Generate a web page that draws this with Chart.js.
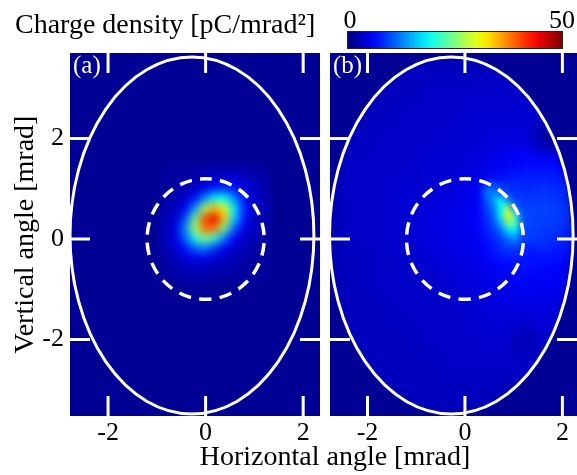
<!DOCTYPE html>
<html>
<head>
<meta charset="utf-8">
<title>Charge density</title>
<script src="https://cdn.jsdelivr.net/npm/chart.js@4.4.1/dist/chart.umd.min.js"></script>
<style>
  html, body { margin: 0; padding: 0; background: #fff; }
  body { position: relative; width: 577px; height: 475px; overflow: hidden; font-family: "Liberation Serif", "DejaVu Serif", serif; }
  .panel { position: absolute; top: 0; height: 475px; }
  #boxA { left: 0; width: 325px; }
  #boxB { left: 325px; width: 252px; }
  .lbl { position: absolute; white-space: nowrap; color: #000; }
  #cbTitle { left: 15px; top: 10px; font-size: 28px; line-height: 28px; }
  #cbMin { left: 350px; top: 7px; font-size: 26px; line-height: 26px; transform: translateX(-50%); }
  #cbMax { right: 2px; top: 7px; font-size: 26px; line-height: 26px; }
  #colorbar { position: absolute; left: 347px; top: 31px; width: 216px; height: 18px; box-sizing: border-box; border: 1px solid #222; }
  .tag { color: #fff; font-size: 25px; line-height: 25px; top: 52px; }
  #tagA { left: 73px; }
  #tagB { left: 333px; }
  #xTitle { left: 335px; top: 442px; font-size: 28px; line-height: 28px; transform: translateX(-50%); }
</style>
</head>
<body>
<div class="panel" id="boxA"><canvas id="chartA"></canvas></div>
<div class="panel" id="boxB"><canvas id="chartB"></canvas></div>
<div class="lbl" id="cbTitle">Charge density [pC/mrad²]</div>
<div id="colorbar"></div>
<div class="lbl" id="cbMin"></div>
<div class="lbl" id="cbMax"></div>
<div class="lbl tag" id="tagA">(a)</div>
<div class="lbl tag" id="tagB">(b)</div>
<div class="lbl" id="xTitle">Horizontal angle [mrad]</div>
<script>
// axis ranges and ticks, mrad
const xRangeA = [-2.78, 2.345];
const xRangeB = [-2.77, 2.30];
const yRange = [-3.52, 3.70];
const xTicks = [-2, 0, 2];
const yTicks = [-2, 0, 2];
const cbRange = [0, 50];
const bgValue = 1;

// aperture ellipse and dashed circle, mrad
const apertureCenter = [-0.28, 0.07];
const apertureRadii = [2.5, 3.55];
const circleRadius = 1.2;

// (a) charge density, 0.2 mrad cells
const aCell = 0.2;
const aCols = [-0.8, -0.6, -0.4, -0.2, 0, 0.2, 0.4, 0.6, 0.8, 1.0, 1.2];
const aRows = [1.4, 1.2, 1.0, 0.8, 0.6, 0.4, 0.2, 0, -0.2, -0.4, -0.6, -0.8];
const aValues = [
  [1.5, 1.5, 1.5, 1.5, 2, 2, 2, 2, 2, 1.5, 1.5],
  [1.5, 1.5, 2, 2.5, 3, 3.5, 4, 4, 3.5, 2.5, 2],
  [1.5, 2, 2.5, 3.5, 5, 7.5, 8.5, 7, 5, 3, 2.5],
  [2, 2.5, 3.5, 7, 13, 19, 19, 13, 7, 4, 2.5],
  [2.5, 3, 6, 14, 27, 35, 30, 18, 8, 4, 2.5],
  [2.5, 4, 10, 24, 40, 45, 34, 17, 7, 3.5, 2.5],
  [3, 5, 13, 27, 39, 38, 24, 11, 5, 3, 2],
  [3, 5, 11, 20, 25, 21, 12, 6, 3.5, 2.5, 2],
  [2.5, 4, 7, 11, 12, 9, 5.5, 3.5, 2.5, 2, 1.5],
  [2, 3, 4, 5, 5, 4, 3, 2.5, 2, 1.5, 1.5],
  [1.5, 2.5, 3, 3, 3, 2.5, 2.5, 2, 1.5, 1.5, 1.5],
  [1.5, 1.5, 2, 2, 2, 1.5, 1.5, 1.5, 1.5, 1.5, 1.5]
];

// (b) charge density, 0.5 mrad cells over the aperture
const bCell = 0.5;
const bCols = [-2.75, -2.25, -1.75, -1.25, -0.75, -0.25, 0.25, 0.75, 1.25, 1.75, 2.25];
const bRows = [3.5, 3.0, 2.5, 2.0, 1.5, 1.0, 0.5, 0, -0.5, -1.0, -1.5, -2.0, -2.5, -3.0, -3.5];
const bValues = [
  [3, 3, 3, 3, 3, 3, 3, 3, 3, 3, 3],
  [3, 3, 3, 3, 3.5, 3.5, 3.5, 3.5, 3.5, 3.5, 3.5],
  [3, 3, 3, 3.5, 3.5, 3.5, 4, 4, 4, 4, 4],
  [3, 3, 3.5, 3.5, 3.5, 4, 4, 4.5, 4.5, 0.5, 4.5],
  [3, 3.5, 3.5, 3.5, 4, 4, 4.5, 5.5, 6.5, 6.5, 6],
  [3, 3.5, 3.5, 4, 4, 4.5, 5.5, 7.5, 8.5, 8.5, 7.5],
  [3, 3.5, 3.5, 4, 4.5, 5, 6, 9, 10, 9.5, 8.5],
  [3, 3.5, 3.5, 4, 4.5, 5, 5.5, 8, 9.5, 8.5, 7.5],
  [3, 3, 3.5, 3.5, 4, 4.5, 5, 6.5, 7, 6.5, 6],
  [3, 3, 3.5, 3.5, 3.5, 4, 4.5, 5, 5.5, 5.5, 5],
  [3, 3, 3, 3.5, 3.5, 3.5, 4, 4.5, 4.5, 4.5, 4],
  [3, 3, 3, 3, 3.5, 3.5, 3.5, 4, 2.5, 4, 4],
  [3, 3, 3, 3, 3, 3.5, 3.5, 3.5, 3.5, 3.5, 3.5],
  [3, 3, 3, 3, 3, 3, 3, 3, 3, 3, 3],
  [3, 3, 3, 3, 3, 3, 3, 3, 3, 3, 3]
];

// (b) crescent near the dashed circle, 0.15 mrad cells
const bFineCell = 0.15;
const bFineCols = [0.45, 0.6, 0.75, 0.9, 1.05, 1.2, 1.35];
const bFineRows = [1.05, 0.9, 0.75, 0.6, 0.45, 0.3, 0.15, 0, -0.15, -0.3];
const bFineValues = [
  [9, 10, 9, 8.5, 8.5, 8, 8],
  [12, 13, 11, 9, 8.5, 8.5, 8.5],
  [10, 14, 19, 13, 9.5, 9, 9],
  [9, 12, 19, 27, 12, 9.5, 9.5],
  [8.5, 11, 18, 32, 21, 10, 9.5],
  [8, 10, 15, 25, 23, 10, 9.5],
  [7.5, 9, 11, 17, 18, 10, 9],
  [7, 8, 9.5, 12, 13, 9.5, 9],
  [6.5, 7.5, 8.5, 9.5, 10, 8.5, 8],
  [6, 7, 7.5, 8, 8, 7.5, 7]
];

function clamp01(v) { return Math.max(0, Math.min(1, v)); }

function jet(v) {
  const t = clamp01((v - cbRange[0]) / (cbRange[1] - cbRange[0]));
  const r = clamp01(1.5 - Math.abs(4 * t - 3));
  const g = clamp01(1.5 - Math.abs(4 * t - 2));
  const b = clamp01(1.5 - Math.abs(4 * t - 1));
  return `rgb(${Math.round(r * 255)},${Math.round(g * 255)},${Math.round(b * 255)})`;
}

function heatCells(cols, rows, values) {
  const pts = [];
  rows.forEach((y, i) => cols.forEach((x, j) => pts.push({ x: x, y: y, v: values[i][j] })));
  return pts;
}

// order: higher numbers are drawn first (underneath)
function heatDataset(cols, rows, values, cell, blur, order) {
  return {
    data: heatCells(cols, rows, values),
    blur: blur,
    order: order,
    pointStyle: 'rect',
    pointBorderWidth: 0,
    pointBackgroundColor: c => jet(c.raw ? c.raw.v : bgValue),
    pointRadius: c => {
      const s = c.chart.scales.x;
      const w = Math.abs(s.getPixelForValue(cell) - s.getPixelForValue(0));
      return (w + 1.5) / (2 * Math.SQRT1_2);
    }
  };
}

function apertureClip(chart) {
  const { ctx, scales: { x, y } } = chart;
  const cx = x.getPixelForValue(apertureCenter[0]);
  const cy = y.getPixelForValue(apertureCenter[1]);
  const rx = Math.abs(x.getPixelForValue(apertureCenter[0] + apertureRadii[0]) - cx);
  const ry = Math.abs(y.getPixelForValue(apertureCenter[1] + apertureRadii[1]) - cy);
  ctx.beginPath();
  ctx.ellipse(cx, cy, rx, ry, 0, 0, Math.PI * 2);
}

const heatPlugin = {
  id: 'heat',
  beforeDatasetsDraw(chart) {
    const { ctx, chartArea: a } = chart;
    ctx.save();
    ctx.fillStyle = jet(bgValue);
    ctx.fillRect(a.left, a.top, a.width, a.height);
    ctx.restore();
  },
  afterDatasetDraw(chart, args) {
    const blur = chart.data.datasets[args.index].blur;
    if (!blur) return;
    const { ctx, chartArea: a, canvas } = chart;
    const r = chart.currentDevicePixelRatio;
    const tmp = document.createElement('canvas');
    tmp.width = Math.round(a.width * r);
    tmp.height = Math.round(a.height * r);
    tmp.getContext('2d').drawImage(canvas, a.left * r, a.top * r, a.width * r, a.height * r, 0, 0, tmp.width, tmp.height);
    ctx.save();
    ctx.beginPath();
    ctx.rect(a.left, a.top, a.width, a.height);
    ctx.clip();
    ctx.fillStyle = jet(bgValue);
    ctx.fillRect(a.left, a.top, a.width, a.height);
    apertureClip(chart);
    ctx.clip();
    ctx.filter = `blur(${blur}px)`;
    ctx.drawImage(tmp, a.left, a.top, a.width, a.height);
    ctx.restore();
  },
  afterDatasetsDraw(chart) {
    const { ctx, chartArea: a, scales: { x, y } } = chart;
    ctx.save();
    ctx.beginPath();
    ctx.rect(a.left, a.top, a.width, a.height);
    ctx.clip();
    ctx.strokeStyle = '#fff';

    // aperture
    ctx.lineWidth = 3;
    apertureClip(chart);
    ctx.stroke();

    // dashed circle
    const cx = x.getPixelForValue(0), cy = y.getPixelForValue(0);
    const rx = Math.abs(x.getPixelForValue(circleRadius) - cx);
    const ry = Math.abs(y.getPixelForValue(circleRadius) - cy);
    const perim = Math.PI * (3 * (rx + ry) - Math.sqrt((3 * rx + ry) * (rx + 3 * ry)));
    const period = perim / 18;
    ctx.lineWidth = 3.5;
    ctx.setLineDash([period * 0.6, period * 0.4]);
    ctx.lineDashOffset = period * 0.3;
    ctx.beginPath();
    ctx.ellipse(cx, cy, rx, ry, 0, -Math.PI / 2, Math.PI * 1.5);
    ctx.stroke();
    ctx.setLineDash([]);

    // inner tick marks
    ctx.lineWidth = 3;
    ctx.beginPath();
    xTicks.forEach(v => {
      const p = x.getPixelForValue(v);
      ctx.moveTo(p, a.top); ctx.lineTo(p, a.top + 20);
      ctx.moveTo(p, a.bottom); ctx.lineTo(p, a.bottom - 20);
    });
    yTicks.forEach(v => {
      const p = y.getPixelForValue(v);
      ctx.moveTo(a.left, p); ctx.lineTo(a.left + 20, p);
      ctx.moveTo(a.right, p); ctx.lineTo(a.right - 20, p);
    });
    ctx.stroke();
    ctx.restore();
  }
};

const tickFont = { family: 'Liberation Serif', size: 26 };

function xScale(range) {
  return {
    type: 'linear',
    min: range[0],
    max: range[1],
    grid: { display: false, drawTicks: false },
    border: { display: false },
    afterBuildTicks: s => { s.ticks = xTicks.map(v => ({ value: v })); },
    afterFit: s => { s.height = 59; },
    ticks: { font: tickFont, color: '#000', padding: 2, maxRotation: 0, autoSkip: false }
  };
}

function baseOptions(padding) {
  return {
    responsive: true,
    maintainAspectRatio: false,
    animation: false,
    events: [],
    layout: { padding: padding },
    plugins: { legend: { display: false }, tooltip: { enabled: false } }
  };
}

const optsA = baseOptions({ top: 53, right: 5, left: 0, bottom: 0 });
optsA.scales = {
  x: xScale(xRangeA),
  y: {
    type: 'linear',
    min: yRange[0],
    max: yRange[1],
    grid: { display: false, drawTicks: false },
    border: { display: false },
    afterBuildTicks: s => { s.ticks = yTicks.map(v => ({ value: v })); },
    afterFit: s => { s.width = 70; },
    ticks: { font: tickFont, color: '#000', padding: 6 },
    title: {
      display: true,
      text: 'Vertical angle [mrad]',
      color: '#000',
      font: { family: 'Liberation Serif', size: 28 },
      padding: { top: 9, bottom: 0 }
    }
  }
};

const optsB = baseOptions({ top: 53, right: 0, left: 5, bottom: 0 });
optsB.scales = {
  x: xScale(xRangeB),
  y: { type: 'linear', display: false, min: yRange[0], max: yRange[1] }
};

new Chart(document.getElementById('chartA'), {
  type: 'scatter',
  data: { datasets: [heatDataset(aCols, aRows, aValues, aCell, 4, 1)] },
  options: optsA,
  plugins: [heatPlugin]
});

new Chart(document.getElementById('chartB'), {
  type: 'scatter',
  data: {
    datasets: [
      heatDataset(bCols, bRows, bValues, bCell, 8, 2),
      heatDataset(bFineCols, bFineRows, bFineValues, bFineCell, 3, 1)
    ]
  },
  options: optsB,
  plugins: [heatPlugin]
});

// colour bar
const stops = [];
for (let v = cbRange[0]; v <= cbRange[1]; v += 2.5) {
  stops.push(`${jet(v)} ${((v - cbRange[0]) / (cbRange[1] - cbRange[0]) * 100).toFixed(1)}%`);
}
document.getElementById('colorbar').style.background = `linear-gradient(to right, ${stops.join(', ')})`;
document.getElementById('cbMin').textContent = cbRange[0];
document.getElementById('cbMax').textContent = cbRange[1];
</script>
</body>
</html>
